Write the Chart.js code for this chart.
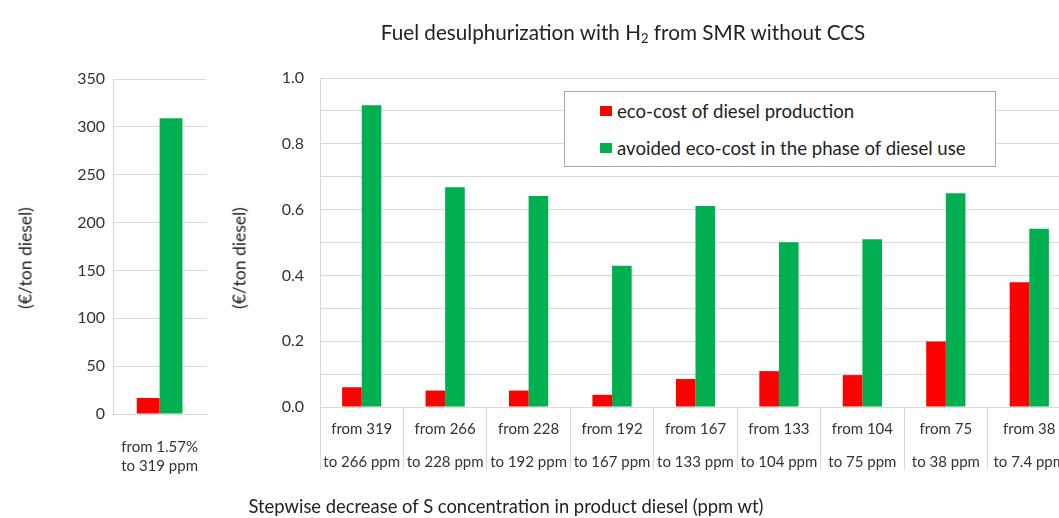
<!DOCTYPE html>
<html>
<head>
<meta charset="utf-8">
<script src="https://cdn.jsdelivr.net/npm/chart.js@4.4.1/dist/chart.umd.min.js"></script>
<style>
  html, body { margin: 0; padding: 0; width: 1059px; height: 518px; overflow: hidden; background: #fff; }
  body { position: relative; font-family: Lato, "Liberation Sans", sans-serif; color: #222; }
  canvas { position: absolute; top: 0; }
  #leftChart { left: 0; }
  #rightChart { left: 220px; }
  .txt { position: absolute; white-space: nowrap; }
  #title { left: 623px; top: 32px; transform: translate(-50%, -50%); font-size: 20.7px; }
  #title sub { font-size: 13px; vertical-align: -3px; line-height: 0; }
  .ytitle { top: 258px; transform: translate(-50%, -50%) rotate(-90deg); font-size: 17.5px; }
  #yt1 { left: 25px; }
  #yt2 { left: 239px; }
  #xtitle { left: 506px; top: 506px; transform: translate(-50%, -50%); font-size: 18.4px; }
  #legend { position: absolute; left: 564px; top: 91px; width: 430px; height: 74px; border: 1.5px solid #a6a6a6; background: #fff; }
  .leg { position: absolute; left: 52px; font-size: 18.6px; transform: translateY(-50%); }
  .leg i { position: absolute; left: -17px; top: 50%; width: 12px; height: 10px; margin-top: -5px; }
</style>
</head>
<body>
<canvas id="leftChart" width="220" height="518"></canvas>
<canvas id="rightChart" width="856" height="518"></canvas>

<div id="title" class="txt">Fuel desulphurization with H<sub>2</sub> from SMR without CCS</div>
<div id="yt1" class="txt ytitle">(€/ton diesel)</div>
<div id="yt2" class="txt ytitle">(€/ton diesel)</div>
<div id="xtitle" class="txt">Stepwise decrease of S concentration in product diesel (ppm wt)</div>
<div id="legend"></div>

<script>
const seriesNames = ["eco-cost of diesel production", "avoided eco-cost in the phase of diesel use"];
const seriesColors = ["#ff0000", "#00b050"];

// first step (large scale, left panel)
const firstCategory = [["from 1.57%", "to 319 ppm"]];
const firstProduction = [16.7];
const firstAvoided = [309];

// following steps (right panel)
const stepCategories = [
  ["from 319", "to 266 ppm"],
  ["from 266", "to 228 ppm"],
  ["from 228", "to 192 ppm"],
  ["from 192", "to 167 ppm"],
  ["from 167", "to 133 ppm"],
  ["from 133", "to 104 ppm"],
  ["from 104", "to 75 ppm"],
  ["from 75", "to 38 ppm"],
  ["from 38", "to 7.4 ppm"]
];
const stepProduction = [0.06, 0.05, 0.05, 0.037, 0.085, 0.109, 0.097, 0.199, 0.379];
const stepAvoided = [0.917, 0.668, 0.641, 0.429, 0.611, 0.501, 0.51, 0.65, 0.542];

const gridColor = "#d9d9d9";
const tickColor = "#333";
const fontFamily = "Lato, 'Liberation Sans', sans-serif";

// legend
const legend = document.getElementById("legend");
seriesNames.forEach((name, i) => {
  const d = document.createElement("div");
  d.className = "leg";
  d.style.top = (i === 0 ? 19 : 56) + "px";
  d.innerHTML = `<i style="background:${seriesColors[i]}"></i>${name}`;
  legend.appendChild(d);
});

function makeDatasets(a, b) {
  return [
    { label: seriesNames[0], data: a, backgroundColor: seriesColors[0] },
    { label: seriesNames[1], data: b, backgroundColor: seriesColors[1] }
  ];
}

// left panel
new Chart(document.getElementById("leftChart"), {
  type: "bar",
  data: { labels: firstCategory, datasets: makeDatasets(firstProduction, firstAvoided) },
  options: {
    responsive: false,
    animation: false,
    layout: { padding: { top: 79, right: 13, left: 0, bottom: 0 } },
    datasets: { bar: { categoryPercentage: 0.49, barPercentage: 1 } },
    plugins: { legend: { display: false }, tooltip: { enabled: false } },
    scales: {
      x: {
        afterFit: (s) => { s.height = 104; },
        grid: { display: false },
        border: { display: true, color: gridColor },
        ticks: { color: tickColor, padding: 15.5, font: { family: fontFamily, size: 15, lineHeight: 19 / 15 } }
      },
      y: {
        min: 0, max: 350,
        afterFit: (s) => { s.width = 113; },
        grid: { color: gridColor, drawTicks: false },
        border: { display: true, color: gridColor },
        ticks: { stepSize: 50, color: tickColor, padding: 8, font: { family: fontFamily, size: 16 } }
      }
    }
  }
});

// right panel
new Chart(document.getElementById("rightChart"), {
  type: "bar",
  data: { labels: stepCategories, datasets: makeDatasets(stepProduction, stepAvoided) },
  options: {
    responsive: false,
    animation: false,
    layout: { padding: { top: 78, right: 5, left: 0, bottom: 0 } },
    datasets: { bar: { categoryPercentage: 0.47, barPercentage: 1 } },
    plugins: { legend: { display: false }, tooltip: { enabled: false } },
    scales: {
      x: {
        afterFit: (s) => { s.height = 111; },
        grid: { display: true, offset: true, drawOnChartArea: false, drawTicks: true, tickLength: 63, color: gridColor },
        border: { display: true, color: gridColor },
        ticks: { color: tickColor, padding: -57.5, font: { family: fontFamily, size: 15, lineHeight: 33 / 15 } }
      },
      y: {
        min: 0, max: 1,
        afterFit: (s) => { s.width = 100; },
        grid: { color: gridColor, drawTicks: false },
        border: { display: true, color: gridColor },
        ticks: {
          stepSize: 0.1, color: tickColor, padding: 16, font: { family: fontFamily, size: 16 },
          callback: (v) => (Math.round(v * 10) % 2 === 0 ? v.toFixed(1) : "")
        }
      }
    }
  }
});
</script>
</body>
</html>
